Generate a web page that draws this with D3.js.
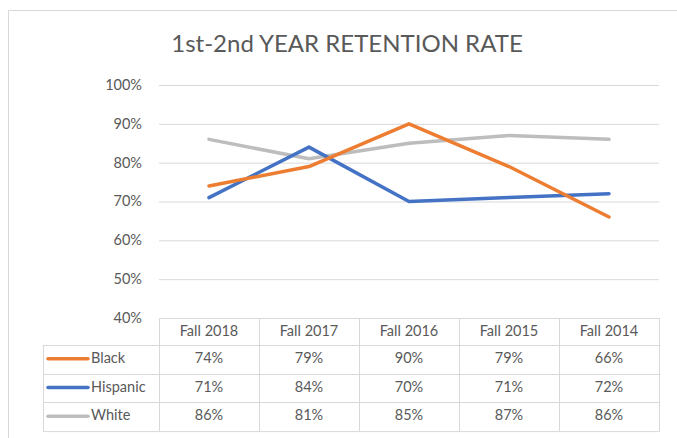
<!DOCTYPE html>
<html>
<head>
<meta charset="utf-8">
<script src="https://cdn.jsdelivr.net/npm/d3@7"></script>
<style>
  html, body { margin: 0; padding: 0; background: #ffffff; }
  svg { display: block; }
  text { font-family: Lato, "Open Sans", sans-serif; fill: #595959; }
</style>
</head>
<body>
<svg id="chart" width="677" height="438"></svg>
<script>
// Retention rate by cohort, one series per group
const categories = ["Fall 2018", "Fall 2017", "Fall 2016", "Fall 2015", "Fall 2014"];
const seriesNames = ["Black", "Hispanic", "White"];
const blackValues = [0.74, 0.79, 0.90, 0.79, 0.66];
const hispanicValues = [0.71, 0.84, 0.70, 0.71, 0.72];
const whiteValues = [0.86, 0.81, 0.85, 0.87, 0.86];
const yTicks = [0.4, 0.5, 0.6, 0.7, 0.8, 0.9, 1.0];
const titleText = "1st-2nd YEAR RETENTION RATE";

const seriesColors = ["#ED7D31", "#4472C4", "#BDBDBD"];
const series = seriesNames.map((name, i) => ({
  name,
  values: [blackValues, hispanicValues, whiteValues][i],
  color: seriesColors[i]
}));

const svg = d3.select("#chart");
const plot = { left: 159, right: 659, top: 85, bottom: 318 };
const tableLeft = 43;
const headerBottom = 345;
const rowHeight = 28.7;
const gridColor = "#D9D9D9";

// Outer chart frame
svg.append("path")
  .attr("d", "M8.5,460 V10.5 H700")
  .attr("fill", "none")
  .attr("stroke", gridColor)
  .attr("stroke-width", 1);

// Title
svg.append("text")
  .attr("x", 347)
  .attr("y", 52)
  .attr("text-anchor", "middle")
  .attr("font-size", 24)
  .text(titleText);

const x = d3.scaleBand().domain(categories).range([plot.left, plot.right]).padding(0);
const y = d3.scaleLinear().domain([0.4, 1.0]).range([plot.bottom, plot.top]);

// Horizontal gridlines and percent labels
const yAxis = d3.axisLeft(y)
  .tickValues(yTicks)
  .tickFormat(d3.format(".0%"))
  .tickSize(-(plot.right - plot.left))
  .tickPadding(17);

const yg = svg.append("g")
  .attr("transform", `translate(${plot.left},0)`)
  .call(yAxis);
yg.select(".domain").remove();
yg.selectAll(".tick line").attr("stroke", gridColor).attr("stroke-width", 1);
yg.selectAll(".tick text")
  .attr("font-size", 14.5)
  .attr("fill", "#595959")
  .attr("font-family", "Lato, sans-serif")
  .attr("dy", "0.3em");

// Data table: header row
const cx = d => x(d) + x.bandwidth() / 2;
const table = svg.append("g");
const tableBottom = headerBottom + rowHeight * series.length;

// header cell borders
table.append("rect")
  .attr("x", plot.left + 0.5).attr("y", plot.bottom + 0.5)
  .attr("width", plot.right - plot.left).attr("height", headerBottom - plot.bottom)
  .attr("fill", "none").attr("stroke", gridColor);
// body border
table.append("rect")
  .attr("x", tableLeft + 0.5).attr("y", headerBottom + 0.5)
  .attr("width", plot.right - tableLeft).attr("height", tableBottom - headerBottom)
  .attr("fill", "none").attr("stroke", gridColor);
// vertical separators
const vLines = [plot.left].concat(categories.map(c => x(c) + x.bandwidth())).slice(0, -1);
table.selectAll("line.v").data(vLines).join("line")
  .attr("class", "v")
  .attr("x1", d => Math.round(d) + 0.5).attr("x2", d => Math.round(d) + 0.5)
  .attr("y1", d => d === plot.left ? headerBottom : plot.bottom)
  .attr("y2", tableBottom)
  .attr("stroke", gridColor);
// row separators
table.selectAll("line.h").data(d3.range(1, series.length)).join("line")
  .attr("class", "h")
  .attr("x1", tableLeft).attr("x2", plot.right)
  .attr("y1", i => Math.round(headerBottom + rowHeight * i) + 0.5)
  .attr("y2", i => Math.round(headerBottom + rowHeight * i) + 0.5)
  .attr("stroke", gridColor);

// header labels
table.selectAll("text.hdr").data(categories).join("text")
  .attr("class", "hdr")
  .attr("x", cx)
  .attr("y", (plot.bottom + headerBottom) / 2)
  .attr("dy", "0.33em")
  .attr("text-anchor", "middle")
  .attr("font-size", 14.5)
  .text(d => d);

// body rows: legend key, name and values
const fmt = d3.format(".0%");
series.forEach((s, i) => {
  const rowMid = headerBottom + rowHeight * (i + 0.5) - 1.5;
  table.append("line")
    .attr("x1", 48).attr("x2", 88)
    .attr("y1", rowMid + 1).attr("y2", rowMid + 1)
    .attr("stroke", s.color)
    .attr("stroke-width", 3.5)
    .attr("stroke-linecap", "round");
  table.append("text")
    .attr("x", 91).attr("y", rowMid).attr("dy", "0.36em")
    .attr("font-size", 14.5)
    .text(s.name);
  table.selectAll(null).data(s.values).join("text")
    .attr("x", (d, j) => cx(categories[j]))
    .attr("y", rowMid).attr("dy", "0.36em")
    .attr("text-anchor", "middle")
    .attr("font-size", 14.5)
    .text(d => fmt(d));
});

// Series lines
const line = d3.line()
  .x((d, j) => cx(categories[j]))
  .y(d => y(d));

svg.append("g").selectAll("path").data(series.slice().reverse()).join("path")
  .attr("d", s => line(s.values))
  .attr("fill", "none")
  .attr("stroke", s => s.color)
  .attr("stroke-width", 3.5)
  .attr("stroke-linejoin", "round")
  .attr("stroke-linecap", "round");
</script>
</body>
</html>
